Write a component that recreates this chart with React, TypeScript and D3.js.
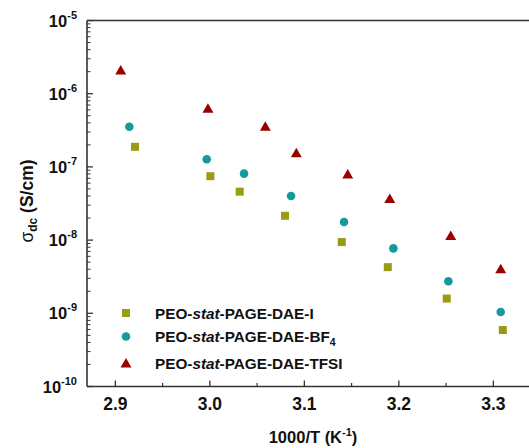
import React from "react";
import * as d3 from "d3";

const xI = [2.9208, 3.0005, 3.0316, 3.0796, 3.1396, 3.1883, 3.2507, 3.31];
const yI = [1.88e-7, 7.46e-8, 4.59e-8, 2.15e-8, 9.4e-9, 4.27e-9, 1.59e-9, 5.9e-10];
const xBF4 = [2.9148, 2.9967, 3.0362, 3.0859, 3.142, 3.1942, 3.2524, 3.3078];
const yBF4 = [3.53e-7, 1.27e-7, 8.1e-8, 4.0e-8, 1.77e-8, 7.7e-9, 2.74e-9, 1.04e-9];
const xTFSI = [2.9057, 2.998, 3.0587, 3.0915, 3.1459, 3.1904, 3.2549, 3.3078];
const yTFSI = [2.07e-6, 6.24e-7, 3.53e-7, 1.54e-7, 7.85e-8, 3.65e-8, 1.14e-8, 4.0e-9];

const xTicks = [2.9, 3.0, 3.1, 3.2, 3.3];
const xMinor = [2.95, 3.05, 3.15, 3.25];
const yExps = [-5, -6, -7, -8, -9, -10];

const seriesNames = ["I", "BF4", "TFSI"];
const colors = ["#9a9a14", "#15999a", "#9a0000"];

const FONT = "'Liberation Sans', Arial, sans-serif";

function Marker({ kind, x, y, color }: { kind: number; x: number; y: number; color: string }) {
  if (kind === 0) return <rect x={x - 4} y={y - 4} width={8} height={8} fill={color} />;
  if (kind === 1) return <circle cx={x} cy={y} r={4.3} fill={color} />;
  const p = d3.symbol().type(d3.symbolTriangle).size(52)();
  return <path d={p || ""} transform={`translate(${x},${y + 0.8})`} fill={color} />;
}

export default function App() {
  const W = 529, H = 448;
  const left = 87, top = 20.5, bottom = 386.5;
  const x = d3.scaleLinear().domain([2.87, 3.35]).range([left, left + 0.48 * 945]);
  const y = d3.scaleLog().domain([1e-10, 1e-5]).range([bottom, top]);
  const axisColor = "#333";

  const yMinor: number[] = [];
  for (let e = -10; e < -5; e++) for (let m = 2; m <= 9; m++) yMinor.push(m * Math.pow(10, e));

  const data = [
    xI.map((v, i) => [v, yI[i]]),
    xBF4.map((v, i) => [v, yBF4[i]]),
    xTFSI.map((v, i) => [v, yTFSI[i]]),
  ];
  const legendY = [313, 336.5, 363.5];

  return (
    <svg width={W} height={H} style={{ position: "fixed", left: 0, top: 0, background: "#fff" }} fontFamily={FONT}>
      <rect width={W} height={H} fill="#fff" />
      {/* axes */}
      <line x1={left} x2={W + 5} y1={top} y2={top} stroke={axisColor} strokeWidth={1.6} />
      <line x1={left} x2={W + 5} y1={bottom} y2={bottom} stroke={axisColor} strokeWidth={1.6} />
      <line x1={left} x2={left} y1={top} y2={bottom} stroke={axisColor} strokeWidth={1.6} />
      {xTicks.map((t) => (
        <g key={t}>
          <line x1={x(t)} x2={x(t)} y1={bottom} y2={bottom - 6} stroke={axisColor} strokeWidth={1.3} />
          <text x={x(t)} y={409.5} textAnchor="middle" fontSize={17.5} fontWeight="bold" fill="#111">
            {t.toFixed(1)}
          </text>
        </g>
      ))}
      {xMinor.map((t) => (
        <line key={t} x1={x(t)} x2={x(t)} y1={bottom} y2={bottom - 3.5} stroke={axisColor} strokeWidth={1.2} />
      ))}
      {yExps.map((e) => (
        <g key={e}>
          <line x1={left} x2={left + 6} y1={y(Math.pow(10, e))} y2={y(Math.pow(10, e))} stroke={axisColor} strokeWidth={1.3} />
          <text x={77} y={y(Math.pow(10, e)) + 6} textAnchor="end" fontSize={16.5} fontWeight="bold" fill="#111">
            10<tspan fontSize={11} dy={-8}>{e}</tspan>
          </text>
        </g>
      ))}
      {yMinor.map((v, i) => (
        <line key={i} x1={left} x2={left + 3.5} y1={y(v)} y2={y(v)} stroke={axisColor} strokeWidth={1} />
      ))}
      {/* axis titles */}
      <text x={313} y={443} textAnchor="middle" fontSize={16.5} fontWeight="bold" fill="#111">
        1000/T (K<tspan fontSize={11} dy={-7}>-1</tspan><tspan dy={7}>)</tspan>
      </text>
      <text transform={`translate(33,${201}) rotate(-90)`} textAnchor="middle" fontSize={17.5} fill="#111">
        <tspan>σ</tspan>
        <tspan fontSize={12} dy={4} fontWeight="bold">dc</tspan>
        <tspan dy={-4} fontWeight="bold"> (S/cm)</tspan>
      </text>
      {/* data */}
      {data.map((s, k) =>
        s.map((d, i) => <Marker key={`${k}-${i}`} kind={k} x={x(d[0])} y={y(d[1])} color={colors[k]} />)
      )}
      {/* legend */}
      {seriesNames.map((n, k) => (
        <g key={n}>
          <Marker kind={k} x={126} y={legendY[k]} color={colors[k]} />
          <text x={155} y={legendY[k] + 5.5} fontSize={15.3} fontWeight="bold" fill="#111">
            PEO-<tspan fontStyle="italic">stat</tspan>-PAGE-DAE-
            {n === "BF4" ? (
              <>
                BF<tspan fontSize={10.5} dy={4}>4</tspan>
              </>
            ) : (
              n
            )}
          </text>
        </g>
      ))}
    </svg>
  );
}
